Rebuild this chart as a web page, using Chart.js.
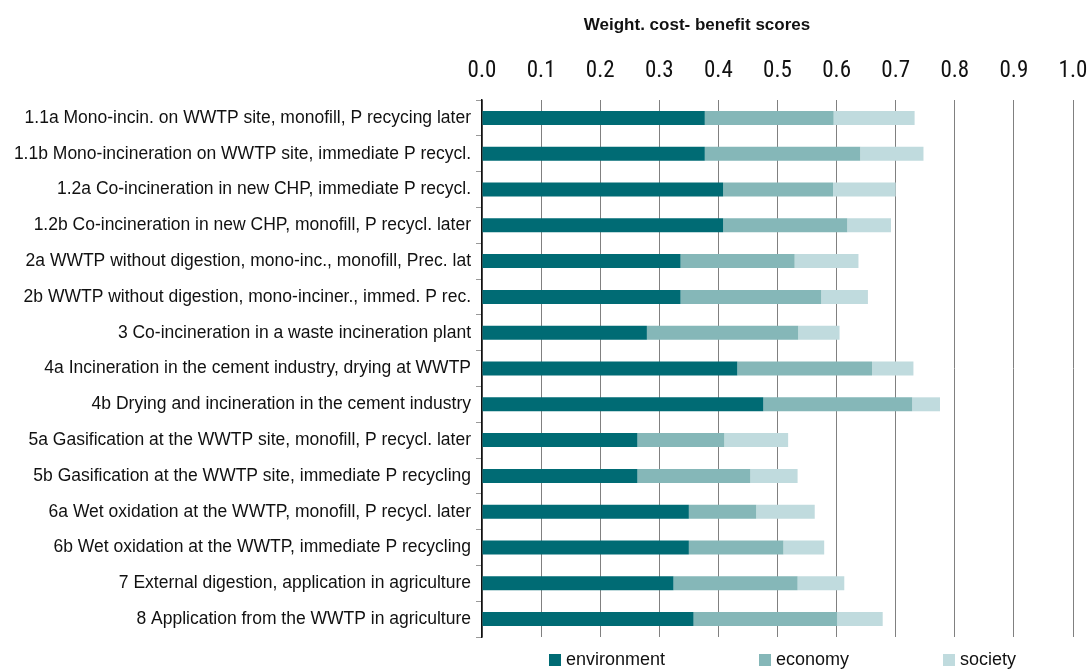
<!DOCTYPE html>
<html>
<head>
<meta charset="utf-8">
<script src="https://cdn.jsdelivr.net/npm/chart.js@4"></script>
<style>
  html, body { margin: 0; padding: 0; background: #fff; }
  #wrap { position: relative; width: 1090px; height: 671px; }
</style>
</head>
<body>
<div id="wrap"><canvas id="scoreChart"></canvas></div>
<script>
// Data
const categories = [
  '1.1a Mono-incin. on WWTP site, monofill, P recycing later',
  '1.1b Mono-incineration on WWTP site, immediate P recycl.',
  '1.2a Co-incineration in new CHP, immediate P recycl.',
  '1.2b Co-incineration in new CHP, monofill, P recycl. later',
  '2a WWTP without digestion, mono-inc., monofill, Prec. lat',
  '2b WWTP without digestion, mono-inciner., immed. P rec.',
  '3 Co-incineration in a waste incineration plant',
  '4a Incineration in the cement industry, drying at WWTP',
  '4b Drying and incineration in the cement industry',
  '5a Gasification at the WWTP site, monofill, P recycl. later',
  '5b Gasification at the WWTP site, immediate P recycling',
  '6a Wet oxidation at the WWTP, monofill, P recycl. later',
  '6b Wet oxidation at the WWTP, immediate P recycling',
  '7 External digestion, application in agriculture',
  '8 Application from the WWTP in agriculture'
];
const environment = [0.377, 0.377, 0.408, 0.408, 0.336, 0.336, 0.279, 0.432, 0.476, 0.263, 0.263, 0.350, 0.350, 0.324, 0.358];
const economy     = [0.218, 0.263, 0.186, 0.210, 0.193, 0.238, 0.256, 0.228, 0.252, 0.147, 0.191, 0.114, 0.160, 0.210, 0.243];
const society     = [0.137, 0.107, 0.106, 0.074, 0.108, 0.079, 0.070, 0.070, 0.047, 0.108, 0.080, 0.099, 0.069, 0.079, 0.077];
const seriesNames = ['environment', 'economy', 'society'];
const chartTitle = 'Weight. cost- benefit scores';

const colors = ['#006b74', '#85b7b8', '#c0dbde'];

// Title above the axis and legend under the plot, placed like the original
const extras = {
  id: 'extras',
  afterDraw(chart) {
    const ctx = chart.ctx;
    ctx.save();
    ctx.textBaseline = 'middle';
    ctx.textAlign = 'center';
    ctx.fillStyle = '#111';
    ctx.font = 'bold 17px "Liberation Sans", Arial, sans-serif';
    ctx.fillText(chartTitle, 697, 25);

    ctx.textAlign = 'left';
    ctx.font = '18px "Liberation Sans", Arial, sans-serif';
    const xs = [549, 759, 943];
    chart.data.datasets.forEach((ds, i) => {
      ctx.fillStyle = ds.backgroundColor;
      ctx.fillRect(xs[i], 654, 12, 12);
      ctx.fillStyle = '#111';
      ctx.fillText(ds.label, xs[i] + 17, 660);
    });
    ctx.restore();
  }
};

const ctx = document.getElementById('scoreChart').getContext('2d');
new Chart(ctx, {
  type: 'bar',
  data: {
    labels: categories,
    datasets: [
      { label: seriesNames[0], data: environment, backgroundColor: colors[0] },
      { label: seriesNames[1], data: economy, backgroundColor: colors[1] },
      { label: seriesNames[2], data: society, backgroundColor: colors[2] }
    ]
  },
  options: {
    indexAxis: 'y',
    responsive: true,
    maintainAspectRatio: false,
    animation: false,
    datasets: {
      bar: { barPercentage: 0.39, categoryPercentage: 1, borderWidth: 0 }
    },
    layout: {
      padding: { top: 0, left: 0, right: 17, bottom: 34 }
    },
    plugins: {
      legend: { display: false },
      tooltip: { enabled: false }
    },
    scales: {
      x: {
        position: 'top',
        stacked: true,
        min: 0,
        max: 1,
        afterFit: s => { s.height = 100; s.paddingRight = 0; s.paddingLeft = 0; },
        ticks: {
          stepSize: 0.1,
          padding: 15,
          color: '#111',
          font: { family: '"Roboto Condensed", "Liberation Sans", sans-serif', size: 23 },
          callback: v => v.toFixed(1)
        },
        grid: { color: '#808080', lineWidth: 1, drawTicks: false },
        border: { display: false }
      },
      y: {
        stacked: true,
        afterFit: s => { s.width = 482; },
        ticks: {
          padding: 5,
          color: '#111',
          font: { family: '"Liberation Sans", Arial, sans-serif', size: 17.5 }
        },
        grid: { drawOnChartArea: false, drawTicks: true, tickLength: 6, color: '#999' },
        border: { display: true, color: '#111', width: 1.5 }
      }
    }
  },
  plugins: [extras]
});
</script>
</body>
</html>
